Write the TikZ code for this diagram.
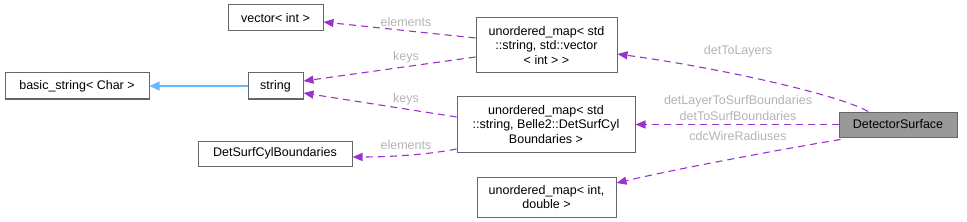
\documentclass[tikz,border=0pt]{standalone}
\usepackage{fontspec}
\setmainfont{Liberation Sans}
\usetikzlibrary{arrows.meta,calc}
\definecolor{dep}{HTML}{9A32CD}
\definecolor{inh}{HTML}{63B8FF}
\definecolor{lbl}{HTML}{B4B4B4}
\definecolor{bord}{HTML}{666666}
\begin{document}
\begin{tikzpicture}[x=1pt,y=-1pt,
  box/.style={draw=bord,line width=1pt,fill=white,align=center,inner sep=0pt,
    font=\fontsize{12.5}{14.5}\selectfont},
  deparrow/.style={draw=dep,line width=1.1pt,dash pattern=on 7pt off 5pt,
    -{Triangle[length=10pt,width=8pt,fill=dep,sep=0pt]}},
  lab/.style={text=lbl,inner sep=0pt,font=\fontsize{12.5}{14.5}\selectfont}]
\useasboundingbox (0,0) rectangle (967,222);
% nodes
\node[box,minimum width=144pt,minimum height=26pt] (bs) at (77,86) {basic\_string< Char >};
\node[box,minimum width=55pt,minimum height=26pt] (str) at (275.5,86) {string};
\node[box,minimum width=95pt,minimum height=26pt] (vec) at (275.5,18) {vector< int >};
\node[box,minimum width=154pt,minimum height=25pt] (dscb) at (275,153.5) {DetSurfCylBoundaries};
\node[box,minimum width=141pt,minimum height=55pt] (um1) at (546.5,45.5) {unordered\_map< std\\::string, std::vector\\< int > >};
\node[box,minimum width=178pt,minimum height=55pt] (um2) at (546,124.5) {unordered\_map< std\\::string, Belle2::DetSurfCyl\\Boundaries >};
\node[box,minimum width=139pt,minimum height=40pt] (um3) at (546.5,197) {unordered\_map< int,\\double >};
\node[box,fill=black!40,minimum width=118pt,minimum height=25pt] (ds) at (898,124.5) {DetectorSurface};
% inheritance
\draw[draw=inh,line width=1.1pt,-{Triangle[length=10pt,width=9pt,fill=inh]}] (str.west) -- (bs.east);
% dependencies
\draw[deparrow] ($(um1.west)+(0,-7.5)$) -- ($(vec.east)+(0,4)$);
\draw[deparrow] ($(um1.west)+(0,11.5)$) -- ($(str.east)+(0,-5)$);
\draw[deparrow] ($(um2.west)+(0,-7.5)$) -- ($(str.east)+(0,7)$);
\draw[deparrow] ($(um2.west)+(0,24.5)$) .. controls (420,156) and (380,157) .. ($(dscb.east)+(0,3.5)$);
\draw[deparrow] ($(ds.north)+(-30,0)$) .. controls (840,95) and (720,68) .. ($(um1.east)+(0,8.5)$);
\draw[deparrow] (ds.west) -- (um2.east);
\draw[deparrow] ($(ds.south west)+(2,2)$) .. controls (800,146) and (680,168) .. ($(um3.east)+(0,-14)$);
% labels
\node[lab] (l1) at (406,22) {elements};
\node[lab] (l2) at (406,57) {keys};
\node[lab] (l3) at (406,99) {keys};
\node[lab] (l4) at (406,145) {elements};
\node[lab] (l5) at (738,51) {detToLayers};
\node[lab] (l6) at (738,101) {detLayerToSurfBoundaries};
\node[lab] (l7) at (738,116) {detToSurfBoundaries};
\node[lab] (l8) at (738,136) {cdcWireRadiuses};
\end{tikzpicture}
\end{document}
